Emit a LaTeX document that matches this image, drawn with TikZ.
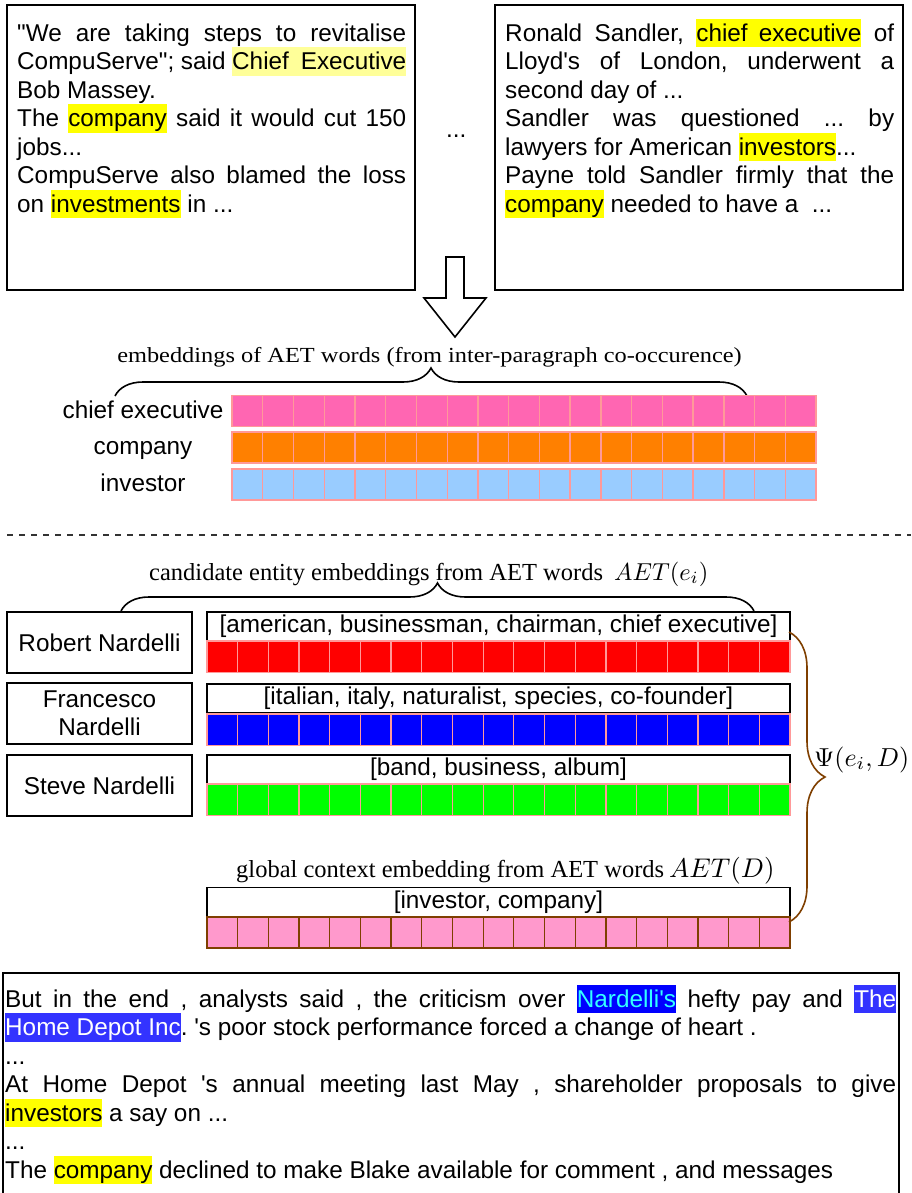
\documentclass[tikz,border=0pt]{standalone}
\usepackage{fontspec}
\setmainfont{Liberation Sans}[Ligatures=TeXOff]
\newfontfamily\seriffont{Liberation Serif}[Ligatures=TeXOff]
\usetikzlibrary{decorations.pathreplacing}
\definecolor{hlyellow}{HTML}{FFFF00}
\definecolor{hllight}{HTML}{FFFF99}
\definecolor{cellpink}{HTML}{FF66B2}
\definecolor{cellorange}{HTML}{FF8000}
\definecolor{celllblue}{HTML}{99CCFF}
\definecolor{cellred}{HTML}{FF0000}
\definecolor{cellbblue}{HTML}{0000FF}
\definecolor{cellgreen}{HTML}{00FF00}
\definecolor{cellrose}{HTML}{FF99CC}
\definecolor{cellline}{HTML}{FF9999}
\definecolor{brownline}{HTML}{7F3F00}
\definecolor{nardbg}{HTML}{0000FF}
\definecolor{nardfg}{HTML}{33FFFF}
\definecolor{depotbg}{HTML}{3333FF}
\newcommand\bodyfont{\fontsize{24.3}{28.5}\selectfont\frenchspacing}
\newcommand\hlw[2][hlyellow]{{\setlength\fboxsep{0pt}\colorbox{#1}{\rule[-6pt]{0pt}{28.5pt}#2}}}
\newcommand\hlx[3]{{\setlength\fboxsep{0pt}\colorbox{#1}{\rule[-6pt]{0pt}{28.5pt}\textcolor{#2}{#3}}}}
\newcommand\jline[2]{\makebox[#1][s]{#2}}
\newcommand\lline[2]{\makebox[#1][l]{#2}}
\tikzset{
  docbox/.style={draw, line width=1.6pt, inner sep=0pt},
  txt/.style={anchor=base west, inner sep=0pt},
  lab/.style={anchor=base, inner sep=0pt, font=\bodyfont},
  entbox/.style={draw, line width=1.6pt, minimum width=185pt, minimum height=61pt, font=\bodyfont, align=center, inner sep=0pt},
  wordbox/.style={draw, line width=1.6pt, minimum width=583pt, minimum height=29pt, font=\bodyfont, inner sep=0pt},
  bracestyle/.style={decorate, line width=1.6pt},
  cellstyle/.style={draw=cellline, line width=1.3pt},
}
\begin{document}
\begin{tikzpicture}[x=1pt,y=-1pt]
\useasboundingbox (0,0) rectangle (911,1193);
% top documents
\node[docbox, minimum width=408pt, minimum height=285pt] (docA) at (211,147.5) {};
\node[docbox, minimum width=408pt, minimum height=285pt] (docB) at (699,147.5) {};
\node[txt] (txtA) at (17,41.5) {\begin{minipage}[t]{389pt}\bodyfont\setlength\parindent{0pt}\lineskiplimit=-10pt
\jline{389pt}{"We are taking steps to revitalise}\\
\jline{389pt}{CompuServe"; said \hlw[hllight]{\makebox[174pt][s]{Chief Executive}}}\\
\lline{389pt}{Bob Massey.}\\
\jline{389pt}{The \hlw{company} said it would cut 150}\\
\lline{389pt}{jobs...}\\
\jline{389pt}{CompuServe also blamed the loss}\\
\lline{389pt}{on \hlw{investments} in ...}
\end{minipage}};
\node[txt] (txtB) at (505,41.5) {\begin{minipage}[t]{389pt}\bodyfont\setlength\parindent{0pt}\lineskiplimit=-10pt
\jline{389pt}{Ronald Sandler, \hlw{\makebox[165pt][s]{chief executive}} of}\\
\jline{389pt}{Lloyd's of London, underwent a}\\
\lline{389pt}{second day of ...}\\
\jline{389pt}{Sandler was questioned ... by}\\
\lline{389pt}{lawyers for American \hlw{investors}...}\\
\jline{389pt}{Payne told Sandler firmly that the}\\
\lline{389pt}{\hlw{company} needed to have a \ ...}
\end{minipage}};
\node[txt, font=\bodyfont] (gap) at (446,138) {...};
% hollow arrow
\draw[line width=1.6pt, line join=miter, fill=white] (446,257) -- (464,257) -- (464,298) -- (486,298) -- (455,337) -- (424,298) -- (446,298) -- cycle;
% embeddings of AET words
\node[anchor=base, inner sep=0pt] (embtitle) at (429.5,362.5) {\scalebox{1.133}[1]{\seriffont\fontsize{21.5}{24}\selectfont embeddings of AET words (from inter-paragraph co-occurence)}};
\coordinate (embL) at (115,396);
\coordinate (embR) at (747,396);
\draw[bracestyle, decoration={brace, amplitude=28pt}] (embL) -- (embR);
\foreach \col/\yy in {cellpink/395.7, cellorange/432, celllblue/469} {
  \foreach \i in {0,...,18} {
    \draw[cellstyle, fill=\col] (232+\i*30.74,\yy) rectangle ++(30.74,31);
  }
}
\node[lab] (lblA) at (143,418) {chief executive};
\node[lab] (lblB) at (143,454) {company};
\node[lab] (lblC) at (143,491) {investor};
% dashed separator
\coordinate (sepL) at (7,535);
\coordinate (sepR) at (911,535);
\draw[line width=1.6pt, dash pattern=on 6pt off 6pt, black!80] (sepL) -- (sepR);
% candidate entities
\node[txt] (candtitle) at (149,580) {\seriffont\fontsize{24.5}{28}\selectfont candidate entity embeddings from AET words};
\node[txt] (candmath) at (614,580) {\scalebox{2.45}{$AET(e_i)$}};
\coordinate (candL) at (121,611);
\coordinate (candR) at (754,611);
\draw[bracestyle, decoration={brace, amplitude=28pt}] (candL) -- (candR);
\node[entbox] (robert) at (99.5,642.5) {Robert Nardelli};
\node[entbox] (francesco) at (99.5,713.5) {Francesco\\[-1pt]Nardelli};
\node[entbox] (steve) at (99.5,785.5) {Steve Nardelli};
\node[wordbox] (wordsA) at (498.5,626.5) {[american, businessman, chairman, chief executive]};
\node[wordbox] (wordsB) at (498.5,698.5) {[italian, italy, naturalist, species, co-founder]};
\node[wordbox] (wordsC) at (498.5,769.5) {[band, business, album]};
\foreach \col/\yy in {cellred/641, cellbblue/714, cellgreen/784} {
  \foreach \i in {0,...,18} {
    \draw[cellstyle, fill=\col] (207+\i*30.684,\yy) rectangle ++(30.684,31.5);
  }
}
% global context
\node[txt] (globtitle) at (236,877) {\seriffont\fontsize{24.5}{28}\selectfont global context embedding from AET words};
\node[txt] (globmath) at (669,877) {\scalebox{2.7}{$AET(D)$}};
\node[wordbox] (wordsD) at (498.5,902) {[investor, company]};
\foreach \i in {0,...,18} {
  \draw[draw=brownline, line width=1.3pt, fill=cellrose] (207+\i*30.684,917) rectangle ++(30.684,31);
}
\coordinate (psiT) at (789,632);
\coordinate (psiB) at (789,922);
\draw[bracestyle, brownline, decoration={brace, amplitude=36pt}] (psiT) -- (psiB);
\node[txt] (psi) at (814,766) {\scalebox{2.6}{$\Psi(e_i,D)$}};
% bottom document
\node[docbox, minimum width=896pt, minimum height=300pt, anchor=north west] (ctx) at (2,972) {};
\node[txt] (ctxtxt) at (5,1007) {\begin{minipage}[t]{891pt}\bodyfont\setlength\parindent{0pt}\lineskiplimit=-10pt
\jline{891pt}{But in the end , analysts said , the criticism over \hlx{nardbg}{nardfg}{Nardelli's} hefty pay and \hlx{depotbg}{white}{The}}\\
\lline{891pt}{\hlx{depotbg}{white}{Home Depot Inc}. 's poor stock performance forced a change of heart .}\\
\lline{891pt}{...}\\
\jline{891pt}{At Home Depot 's annual meeting last May , shareholder proposals to give}\\
\lline{891pt}{\hlw{investors} a say on ...}\\
\lline{891pt}{...}\\
\lline{891pt}{The \hlw{company} declined to make Blake available for comment , and messages}
\end{minipage}};
\end{tikzpicture}
\end{document}
